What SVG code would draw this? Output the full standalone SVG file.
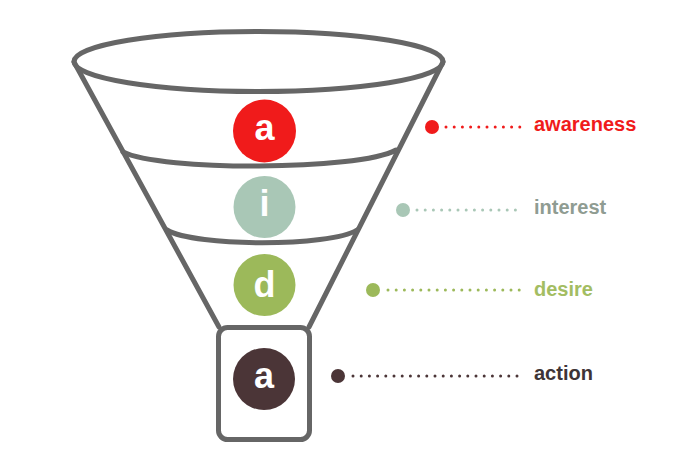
<svg xmlns="http://www.w3.org/2000/svg" width="696" height="460" viewBox="0 0 696 460">
<style>
.f{fill:none;stroke:#666;stroke-width:5;stroke-linecap:round;stroke-linejoin:round}
.ltr{font-family:"Liberation Sans",Arial,sans-serif;font-weight:bold;font-size:36px;fill:#fff;text-anchor:middle}
.lbl{font-family:"Liberation Sans",Arial,sans-serif;font-weight:bold;font-size:20px}
.dot{fill:none;stroke-width:3;stroke-linecap:round;stroke-dasharray:0 8.2}
</style>
<rect width="696" height="460" fill="#fff"/>
<g id="funnel">
<ellipse class="f" cx="258.5" cy="61.5" rx="184.5" ry="30"/>
<path class="f" d="M74,62 L219,327"/>
<path class="f" d="M443,62 L309,327"/>
<path class="f" d="M123,152 C160,171 358,171 396,150"/>
<path class="f" d="M167,230 C195,247 330,247 357,230"/>
<rect class="f" x="218.5" y="327.5" width="91" height="112" rx="9"/>
</g>
<g id="awareness">
<circle cx="264.5" cy="131" r="31.5" fill="#f01b1b"/>
<text class="ltr" x="264.5" y="140">a</text>
</g>
<g id="interest">
<circle cx="264.5" cy="207" r="31" fill="#a9c7b6"/>
<text class="ltr" x="264.5" y="216">i</text>
</g>
<g id="desire">
<circle cx="264.5" cy="285" r="31" fill="#9cb95a"/>
<text class="ltr" x="264.5" y="297">d</text>
</g>
<g id="action">
<circle cx="264" cy="379" r="31" fill="#4b3537"/>
<text class="ltr" x="264" y="388">a</text>
</g>
<g id="connectors">
<circle cx="432" cy="127" r="7" fill="#f01b1b"/>
<line class="dot" x1="446" y1="127" x2="520" y2="127" stroke="#f01b1b"/>
<circle cx="403" cy="210" r="7" fill="#a9c7b6"/>
<line class="dot" x1="417" y1="210" x2="520" y2="210" stroke="#a9c7b6"/>
<circle cx="373" cy="290" r="7" fill="#9cb95a"/>
<line class="dot" x1="388" y1="290" x2="520" y2="290" stroke="#9cb95a"/>
<circle cx="338" cy="376" r="7" fill="#4b3537"/>
<line class="dot" x1="353" y1="376" x2="520" y2="376" stroke="#4b3537"/>
</g>
<g id="labels">
<text class="lbl" x="534" y="131" fill="#f01b1b">awareness</text>
<text class="lbl" x="534" y="214" fill="#8f9c92">interest</text>
<text class="lbl" x="534" y="296" fill="#a3bd62">desire</text>
<text class="lbl" x="534" y="380" fill="#3e3436">action</text>
</g>
</svg>
